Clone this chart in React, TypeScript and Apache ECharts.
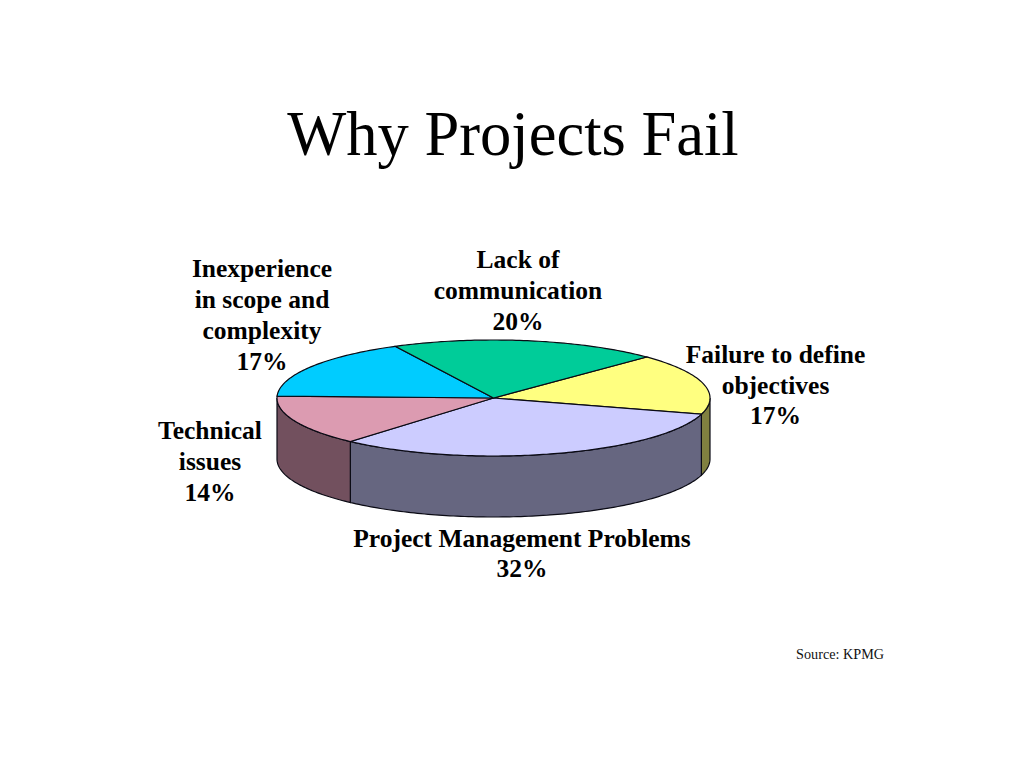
import React, { useEffect, useRef } from "react";
import * as echarts from "echarts";

const titleText = "Why Projects Fail";
const sourceText = "Source: KPMG";
// Clockwise from the upper-right boundary of the pie
const labelLines = [
  ["Failure to define", "objectives"],
  ["Project Management Problems"],
  ["Technical", "issues"],
  ["Inexperience", "in scope and", "complexity"],
  ["Lack of", "communication"],
];
const percentages = [17, 32, 14, 17, 20];
const topColors = ["#FFFF80", "#CCCCFF", "#DC9BB1", "#00CCFF", "#00CC99"];
const wallColors = ["#808040", "#666680", "#72505E", "#006680", "#006650"];
const labelCenters = [
  [775.5, 385],
  [522, 553.5],
  [210, 461.5],
  [262, 315],
  [518, 290.5],
];

const CX = 493.5;
const CY = 398;
const RX = 216.5;
const RY = 58;
const DEPTH = 61;
const START_DEG = 45;
const total = percentages.reduce((a, b) => a + b, 0);

function sliceRange(i: number): [number, number] {
  const before = percentages.slice(0, i).reduce((a, b) => a + b, 0);
  const a0 = START_DEG - (before / total) * 360;
  const a1 = a0 - (percentages[i] / total) * 360;
  return [a0, a1];
}
const pt = (deg: number, dy = 0): number[] => {
  const r = (deg * Math.PI) / 180;
  return [CX + RX * Math.cos(r), CY - RY * Math.sin(r) + dy];
};
function arc(a0: number, a1: number, dy = 0): number[][] {
  const n = Math.max(2, Math.ceil(Math.abs(a1 - a0)));
  const out: number[][] = [];
  for (let k = 0; k <= n; k++) out.push(pt(a0 + ((a1 - a0) * k) / n, dy));
  return out;
}

function renderTop(params: any) {
  const i = params.dataIndex;
  const [a0, a1] = sliceRange(i);
  return {
    type: "polygon",
    shape: { points: [[CX, CY], ...arc(a0, a1)] },
    style: { fill: topColors[i], stroke: "#0a0a14", lineWidth: 1.2 },
  };
}

function renderWall(params: any) {
  const i = params.dataIndex;
  const [a0, a1] = sliceRange(i);
  // Only the front half of the rim (angles -180..0) is visible
  const s = Math.min(a0, 0);
  const e = Math.max(a1, -180);
  if (s <= e) return { type: "group", children: [] };
  const upper = arc(s, e);
  const lower = arc(e, s, DEPTH);
  return {
    type: "polygon",
    shape: { points: [...upper, ...lower] },
    style: { fill: wallColors[i], stroke: "#0a0a14", lineWidth: 1.2 },
  };
}

export default function App() {
  const ref = useRef<HTMLDivElement>(null);
  useEffect(() => {
    document.body.style.margin = "0";
    const chart = echarts.init(ref.current!, undefined, { renderer: "svg" });
    const seriesData = percentages.map((v, i) => ({ name: labelLines[i].join(" "), value: v }));
    chart.setOption({
      animation: false,
      backgroundColor: "#ffffff",
      title: {
        text: titleText,
        left: 508,
        top: 91,
        textAlign: "center",
        textStyle: {
          fontFamily: "Liberation Serif",
          fontSize: 62.5,
          fontWeight: "normal",
          color: "#000000",
          lineHeight: 76,
        },
      },
      series: [
        { type: "custom", coordinateSystem: "none", renderItem: renderWall, data: seriesData, z: 1, silent: true },
        { type: "custom", coordinateSystem: "none", renderItem: renderTop, data: seriesData, z: 2, silent: true },
      ],
      graphic: [
        ...percentages.map((v, i) => ({
          type: "text",
          x: labelCenters[i][0],
          y: labelCenters[i][1],
          silent: true,
          style: {
            text: [...labelLines[i], `${v}%`].join("\n"),
            fontFamily: "Liberation Serif",
            fontSize: 25.5,
            fontWeight: "bold",
            lineHeight: 30.7,
            fill: "#000000",
            align: "center",
            verticalAlign: "middle",
          },
        })),
        {
          type: "text",
          x: 884,
          y: 654,
          silent: true,
          style: {
            text: sourceText,
            fontFamily: "Liberation Serif",
            fontSize: 14.2,
            fill: "#111111",
            align: "right",
            verticalAlign: "middle",
          },
        },
      ],
    });
    return () => chart.dispose();
  }, []);
  return <div ref={ref} style={{ width: 1024, height: 768 }} />;
}
